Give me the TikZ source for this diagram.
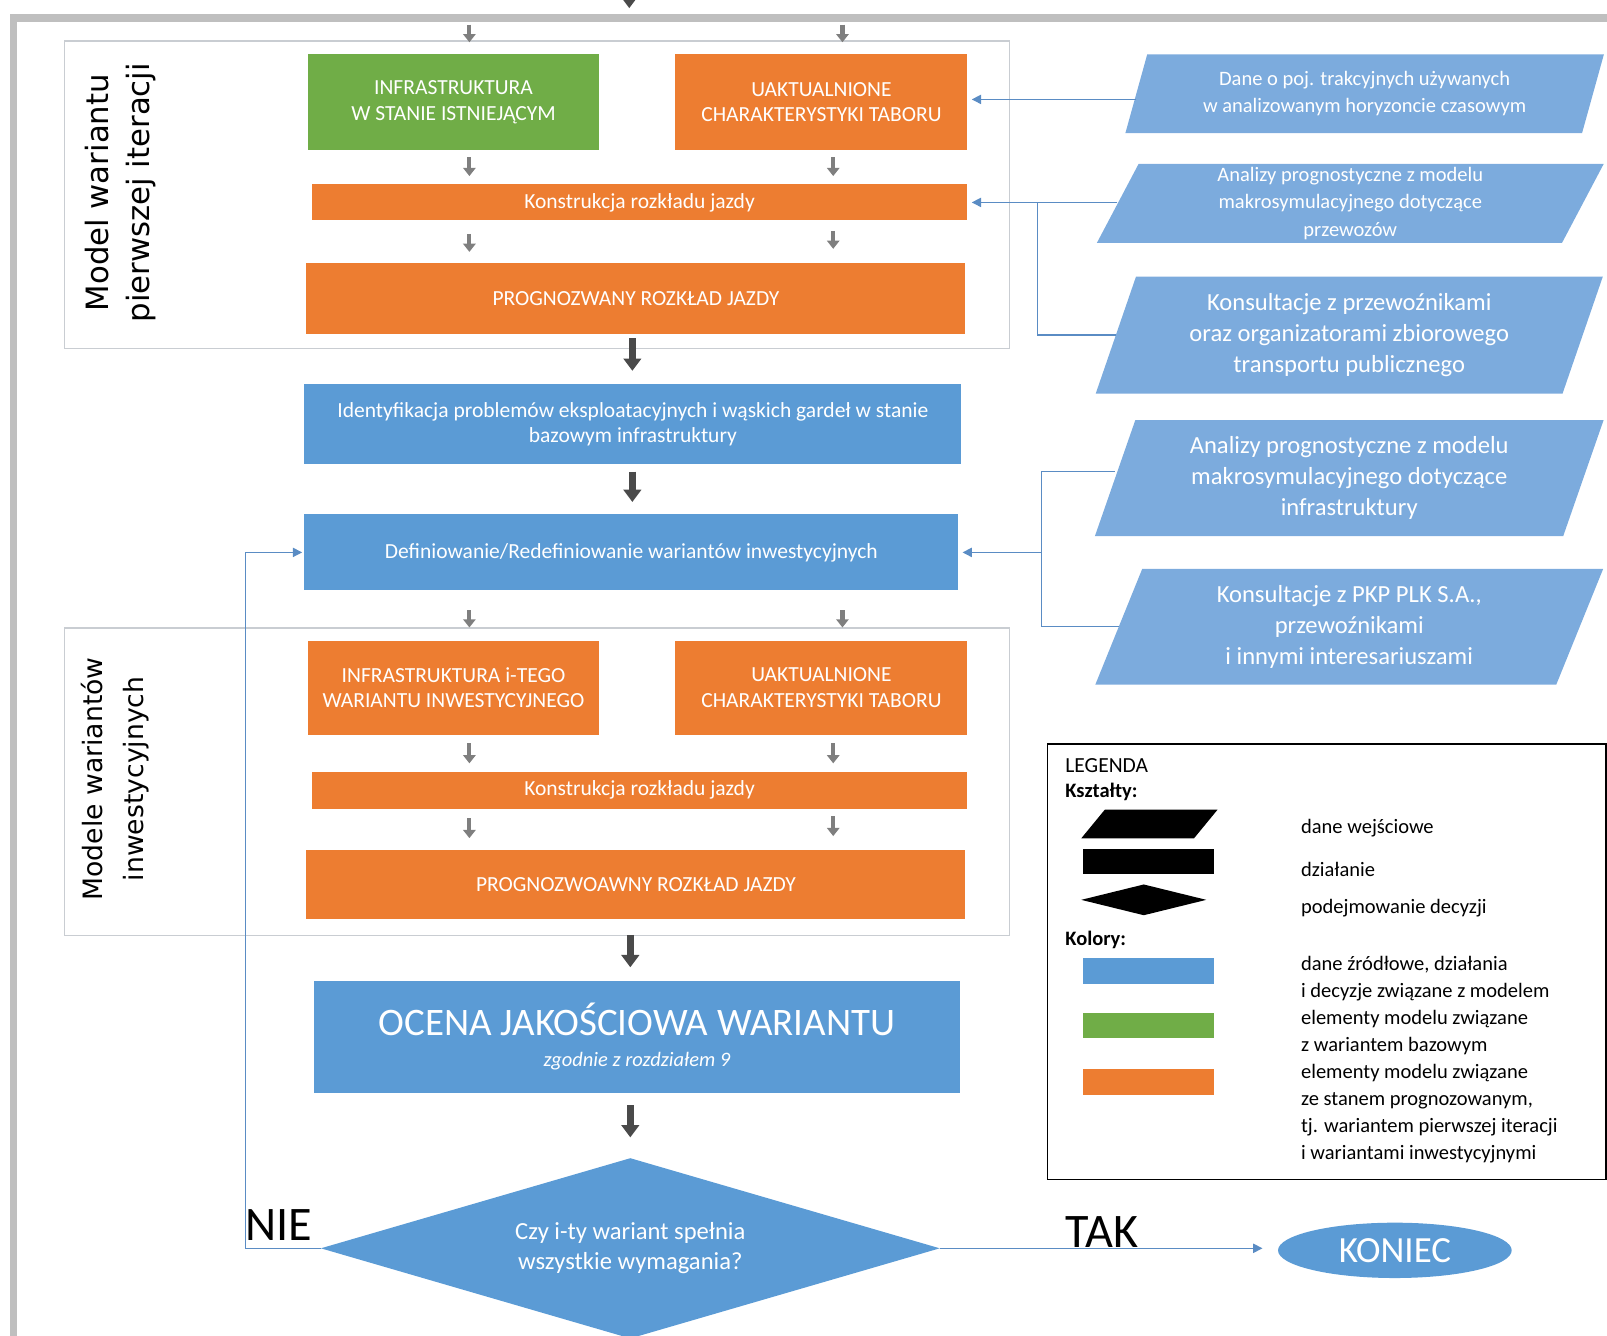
\documentclass[tikz,border=0pt]{standalone}
\usepackage{fontspec}
\setmainfont{Carlito}
\newfontfamily\sidefont{DejaVu Sans}
\usepackage{tikz}
\usetikzlibrary{positioning, arrows.meta, shapes.geometric}

\definecolor{boxblue}{HTML}{5B9BD5}
\definecolor{parablue}{HTML}{7CABDD}
\definecolor{boxgreen}{HTML}{70AD47}
\definecolor{boxorange}{HTML}{ED7D31}
\definecolor{arrgrey}{HTML}{7F7F7F}
\definecolor{arrdark}{HTML}{4A4A4A}
\definecolor{framegrey}{HTML}{BFBFBF}
\definecolor{groupgrey}{HTML}{C9CDD2}
\definecolor{linkblue}{HTML}{5A8CC4}

\begin{document}
\begin{tikzpicture}[x=1pt, y=-1pt,
  box/.style={rectangle, inner sep=0pt, align=center, text=white, font=\fontsize{21}{25}\selectfont},
  orangebox/.style={box, fill=boxorange},
  greenbox/.style={box, fill=boxgreen},
  bluebox/.style={box, fill=boxblue},
  databox/.style={trapezium, trapezium left angle=70, trapezium right angle=110, trapezium stretches=true,
    fill=parablue, text=white, align=center, inner sep=0pt, font=\fontsize{20}{26.5}\selectfont},
  bigdata/.style={databox, font=\fontsize{24}{30}\selectfont},
  groupbox/.style={rectangle, draw=groupgrey, line width=1.5pt, inner sep=0pt},
  sidelabel/.style={rotate=90, align=center},
  smallarr/.style={draw=arrgrey, line width=4pt, -{Triangle[length=8pt, width=12pt]}},
  bigarr/.style={draw=arrdark, line width=6.5pt, -{Triangle[length=12pt, width=17pt]}},
  linkline/.style={draw=linkblue, line width=1.3pt},
  linkarr/.style={linkline, -{Triangle[length=9pt, width=9pt]}},
  answer/.style={font=\fontsize{47}{50}\selectfont},
  legtext/.style={anchor=west, align=left, font=\fontsize{20}{26.3}\selectfont}
]
\useasboundingbox (0,0) rectangle (1568,1303);

% outer frame
\draw[line width=7pt, framegrey] (13.5,1320) -- (13.5,17.5) -- (1580,17.5);
\coordinate (frameIn) at (0,21);
\coordinate (topIn) at (614,-40);
\draw[bigarr] (topIn) -- (topIn |- 0,8);

% arrow columns
\coordinate (colL) at (458,0);
\coordinate (colR) at (813,0);
\coordinate (colT) at (822,0);
\coordinate (colM) at (617,0);

% group frames
\node[groupbox, minimum width=922pt, minimum height=300pt] (grp1) at (524,190) {};
\node[groupbox, minimum width=922pt, minimum height=300pt] (grp2) at (524,763) {};
\node[sidelabel, font=\sidefont\fontsize{30}{40}\selectfont] (lbl1) at (118,188) {Model wariantu\\pierwszej iteracji};
\node[sidelabel, font=\sidefont\fontsize{26}{40}\selectfont] (lbl2) at (112,760) {Modele wariantów\\inwestycyjnych};

% first iteration model
\node[greenbox, minimum width=283pt, minimum height=93pt] (infra1) at (442.5,99.5) {INFRASTRUKTURA\\W STANIE ISTNIEJĄCYM};
\node[orangebox, minimum width=285pt, minimum height=93pt] (tabor1) at (801.5,99.5) {UAKTUALNIONE\\CHARAKTERYSTYKI TABORU};
\node[orangebox, minimum width=640pt, minimum height=35pt] (konstr1) at (624,197.5) {Konstrukcja rozkładu jazdy};
\node[orangebox, minimum width=643pt, minimum height=69pt] (rozklad1) at (620.5,291.5) {PROGNOZWANY ROZKŁAD JAZDY};

\node[bluebox, minimum width=641pt, minimum height=78pt] (ident) at (617.5,414) {Identyfikacja problemów eksploatacyjnych i wąskich gardeł w stanie\\bazowym infrastruktury};
\node[bluebox, minimum width=638pt, minimum height=74pt] (defin) at (616,539) {Definiowanie/Redefiniowanie wariantów inwestycyjnych};

% investment variant models
\node[orangebox, minimum width=283pt, minimum height=92pt] (infra2) at (442.5,671) {INFRASTRUKTURA i-TEGO\\WARIANTU INWESTYCYJNEGO};
\node[orangebox, minimum width=285pt, minimum height=92pt] (tabor2) at (801.5,671) {UAKTUALNIONE\\CHARAKTERYSTYKI TABORU};
\node[orangebox, minimum width=640pt, minimum height=36pt] (konstr2) at (624,771) {Konstrukcja rozkładu jazdy};
\node[orangebox, minimum width=643pt, minimum height=68pt] (rozklad2) at (620.5,863) {PROGNOZWOAWNY ROZKŁAD JAZDY};

\node[bluebox, minimum width=631pt, minimum height=109pt] (ocena) at (621.5,1011.5)
  {{\fontsize{38}{44}\selectfont OCENA JAKOŚCIOWA WARIANTU}\\[5pt]{\itshape\fontsize{20}{24}\selectfont zgodnie z rozdziałem 9}};
\node[diamond, aspect=3.4, fill=boxblue, text=white, align=center, inner sep=0pt, minimum width=604pt, minimum height=176pt,
  font=\fontsize{24}{29}\selectfont] (decyzja) at (615,1218) {Czy i-ty wariant spełnia\\wszystkie wymagania?};
\node[ellipse, fill=boxblue, text=white, inner sep=0pt, minimum width=228pt, minimum height=54pt,
  font=\fontsize{36}{40}\selectfont] (koniec) at (1361,1220) {KONIEC};
\node[answer] (nie) at (272,1195) {NIE};
\node[answer] (tak) at (1075,1202) {TAK};

% input data
\node[databox, minimum width=469pt, minimum height=77pt] (p1) at (1331.5,91.5) {Dane o poj. trakcyjnych używanych\\w analizowanym horyzoncie czasowym};
\node[databox, minimum width=495pt, minimum height=77pt] (p2) at (1317.5,198.5) {Analizy prognostyczne z modelu\\makrosymulacyjnego dotyczące\\przewozów};
\node[bigdata, minimum width=497pt, minimum height=114pt] (p3) at (1316.5,327) {Konsultacje z przewoźnikami\\oraz organizatorami zbiorowego\\transportu publicznego};
\node[bigdata, minimum width=497pt, minimum height=113pt] (p4) at (1316.5,466.5) {Analizy prognostyczne z modelu\\makrosymulacyjnego dotyczące\\infrastruktury};
\node[bigdata, minimum width=497pt, minimum height=113pt] (p5) at (1316.5,611.5) {Konsultacje z PKP PLK S.A.,\\przewoźnikami\\i innymi interesariuszami};

% grey flow arrows
\foreach \c/\a/\b/\s/\e in {colL/frameIn/grp1.north/3/-2, colT/frameIn/grp1.north/3/-2,
    colL/infra1.south/konstr1.north/7/8, colR/tabor1.south/konstr1.north/7/8,
    colL/konstr1.south/rozklad1.north/13/11, colR/konstr1.south/rozklad1.north/10/14,
    colL/defin.south/grp2.north/19/0, colT/defin.south/grp2.north/19/0,
    colL/infra2.south/konstr2.north/8/8, colR/tabor2.south/konstr2.north/8/8,
    colL/konstr2.south/rozklad2.north/9/11, colR/konstr2.south/rozklad2.north/7/13}{
  \draw[smallarr, shorten <=\s pt, shorten >=\e pt] (\c |- \a) -- (\c |- \b);
}
\draw[bigarr, shorten <=4pt, shorten >=13pt] (colM |- rozklad1.south) -- (colM |- ident.north);
\draw[bigarr, shorten <=7pt, shorten >=12pt] (colM |- ident.south) -- (colM |- defin.north);
\draw[bigarr, shorten <=15pt, shorten >=13pt] (615,0 |- rozklad2.south) -- (615,0 |- ocena.north);
\draw[bigarr, shorten <=12pt, shorten >=20pt] (ocena.south -| decyzja.north) -- (decyzja.north);

% input links
\coordinate (j1) at (1012,197.5);
\coordinate (j2) at (1016,539);
\draw[linkarr, shorten >=4pt] (p1.west |- 0,97) -- (tabor1.east |- 0,97);
\draw[linkarr, shorten >=4pt] (p2.west |- konstr1.east) -- (konstr1.east);
\draw[linkline] (p3.west) -| (j1);
\draw[linkline] (p4.west |- 0,460) -| (j2) |- (p5.west);
\draw[linkarr, shorten >=4pt] (j2) -- (defin.east);

% decision
\draw[linkarr, shorten >=2pt] (decyzja.west) -- ++(-73,0) |- (defin.west);
\draw[linkarr, shorten >=15pt] (decyzja.east) -- (koniec.west |- decyzja.east);

% legend
\node[draw=black, line width=1.5pt, minimum width=545pt, minimum height=425pt] (legend) at (1294.5,938.5) {};
\node[anchor=west, font=\fontsize{21}{25}\selectfont] (legTitle) at (1036,747) {LEGENDA};
\node[anchor=west, font=\bfseries\fontsize{20}{25}\selectfont] (legShapes) at (1036,773) {Kształty:};
\node[anchor=west, font=\bfseries\fontsize{20}{25}\selectfont] (legColors) at (1036,917) {Kolory:};
\fill (1055,818) -- (1078,790) -- (1188,790) -- (1165,818) -- cycle;
\fill (1057,828) rectangle (1185,853);
\fill (1055,878) -- (1116,863) -- (1177,878) -- (1116,893) -- cycle;
\fill[boxblue] (1057,935) rectangle (1185,960);
\fill[boxgreen] (1057,988) rectangle (1185,1013);
\fill[boxorange] (1057,1043) rectangle (1185,1068);
\node[legtext] (legInput) at (1266,808) {dane wejściowe};
\node[legtext] (legAction) at (1266,848) {działanie};
\node[legtext] (legDecision) at (1266,886) {podejmowanie decyzji};
\node[legtext] (legDesc) at (1266,1034) {dane źródłowe, działania\\i decyzje związane z modelem\\elementy modelu związane\\z wariantem bazowym\\elementy modelu związane\\ze stanem prognozowanym,\\tj. wariantem pierwszej iteracji\\i wariantami inwestycyjnymi};
\end{tikzpicture}
\end{document}
